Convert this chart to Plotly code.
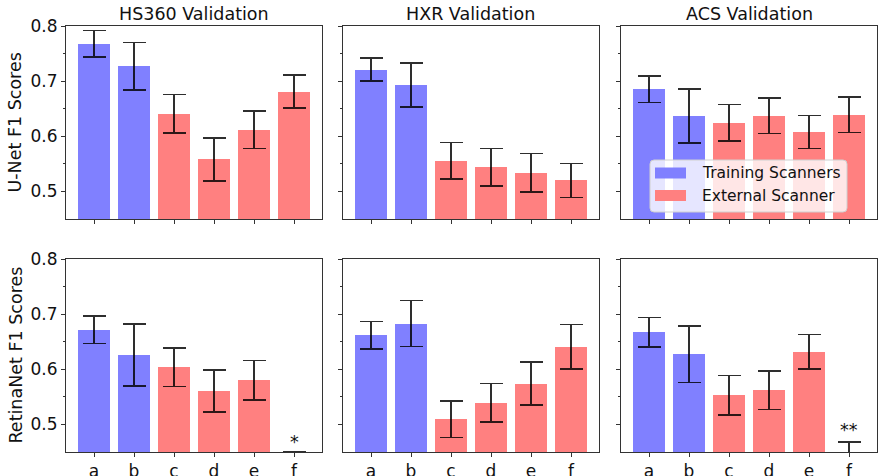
import plotly.graph_objects as go

W, H = 878, 476

categories = ["a", "b", "c", "d", "e", "f"]
validation_sets = ["HS360 Validation", "HXR Validation", "ACS Validation"]
model_labels = ["U-Net F1 Scores", "RetinaNet F1 Scores"]
legend_labels = ["Training Scanners", "External Scanner"]
scanner_type = ["train", "train", "ext", "ext", "ext", "ext"]

# U-Net F1 means / errors
unet_hs360 = [0.768, 0.727, 0.641, 0.558, 0.612, 0.681]
unet_hs360_err = [0.024, 0.043, 0.035, 0.039, 0.034, 0.030]
unet_hxr = [0.721, 0.693, 0.556, 0.544, 0.534, 0.520]
unet_hxr_err = [0.021, 0.040, 0.033, 0.034, 0.035, 0.031]
unet_acs = [0.685, 0.637, 0.625, 0.637, 0.608, 0.639]
unet_acs_err = [0.024, 0.049, 0.033, 0.032, 0.030, 0.032]

# RetinaNet F1 means / errors
ret_hs360 = [0.672, 0.626, 0.604, 0.561, 0.580, 0.420]
ret_hs360_err = [0.025, 0.056, 0.035, 0.038, 0.036, 0.030]
ret_hxr = [0.662, 0.683, 0.509, 0.539, 0.574, 0.641]
ret_hxr_err = [0.025, 0.042, 0.033, 0.035, 0.039, 0.040]
ret_acs = [0.667, 0.627, 0.553, 0.562, 0.632, 0.430]
ret_acs_err = [0.027, 0.051, 0.036, 0.035, 0.031, 0.038]

# significance markers on bar f
marks = {(1, 0): ("*", 0.468), (1, 2): ("**", 0.490)}

y_ticks = [0.5, 0.6, 0.7, 0.8]
y_minor = [0.55, 0.65, 0.75]

values = [[unet_hs360, unet_hxr, unet_acs], [ret_hs360, ret_hxr, ret_acs]]
errors = [[unet_hs360_err, unet_hxr_err, unet_acs_err],
          [ret_hs360_err, ret_hxr_err, ret_acs_err]]

color_map = {"train": "#8080ff", "ext": "#ff8080"}
bar_colors = [color_map[s] for s in scanner_type]

FONT = "DejaVu Sans"
AX = "#333333"

col_px = [(66, 322), (343, 599), (621, 877)]
row_px = [(26, 219), (259, 452)]


def px(x):
    return x / W


def py(y):
    return 1 - y / H


fig = go.Figure()
layout = {}
annotations = []
shapes = []
xs = list(range(len(categories)))

for r in range(2):
    for c in range(3):
        idx = r * 3 + c + 1
        xa = "x" if idx == 1 else f"x{idx}"
        ya = "y" if idx == 1 else f"y{idx}"
        fig.add_trace(go.Bar(
            x=xs, y=values[r][c], width=0.8,
            marker=dict(color=bar_colors, line=dict(width=0)),
            error_y=dict(type="data", array=errors[r][c], color="rgba(0,0,0,0.82)",
                         thickness=1.6, width=11.5),
            xaxis=xa, yaxis=ya, showlegend=False, hoverinfo="skip",
        ))
        x0, x1 = col_px[c]
        y0, y1 = row_px[r]
        layout["xaxis" if idx == 1 else f"xaxis{idx}"] = dict(
            domain=[px(x0), px(x1)], anchor=ya, range=[-0.7, 5.7],
            tickvals=xs, ticktext=categories, showticklabels=(r == 1),
            ticks="outside", ticklen=4, tickwidth=1, tickcolor=AX,
            showline=True, mirror=True, linecolor=AX, linewidth=1,
            showgrid=False, zeroline=False, automargin=False,
            tickfont=dict(family=FONT, size=17, color="#111"),
        )
        layout["yaxis" if idx == 1 else f"yaxis{idx}"] = dict(
            domain=[py(y1), py(y0)], anchor=xa, range=[0.45, 0.8],
            tickvals=y_ticks, ticktext=[f"{v:.1f}" for v in y_ticks],
            showticklabels=(c == 0),
            ticks="outside", ticklen=4, tickwidth=1, tickcolor=AX,
            minor=dict(tickvals=y_minor, ticks="outside", ticklen=2, tickcolor=AX),
            showline=True, mirror=True, linecolor=AX, linewidth=1,
            showgrid=False, zeroline=False, automargin=False,
            tickfont=dict(family=FONT, size=17, color="#111"),
        )
        if r == 0:
            annotations.append(dict(
                text=validation_sets[c], x=px((x0 + x1) / 2), y=py(14),
                xref="paper", yref="paper", showarrow=False,
                xanchor="center", yanchor="middle",
                font=dict(family=FONT, size=17.5, color="#111")))
        if (r, c) in marks:
            t, yv = marks[(r, c)]
            annotations.append(dict(
                text=t, x=5, y=yv, xref=xa, yref=ya, showarrow=False,
                xanchor="center", yanchor="middle",
                font=dict(family=FONT, size=17.5, color="#111")))
    y0, y1 = row_px[r]
    annotations.append(dict(
        text=model_labels[r], x=px(15), y=py((y0 + y1) / 2),
        xref="paper", yref="paper", showarrow=False, textangle=-90,
        xanchor="center", yanchor="middle",
        font=dict(family=FONT, size=17.5, color="#111")))

# legend box (drawn like matplotlib's legend)
lx0, lx1, ly0, ly1 = 650, 847, 160, 212
rad = 4
path = (f"M {px(lx0 + rad)} {py(ly0)} L {px(lx1 - rad)} {py(ly0)} "
        f"Q {px(lx1)} {py(ly0)} {px(lx1)} {py(ly0 + rad)} "
        f"L {px(lx1)} {py(ly1 - rad)} Q {px(lx1)} {py(ly1)} {px(lx1 - rad)} {py(ly1)} "
        f"L {px(lx0 + rad)} {py(ly1)} Q {px(lx0)} {py(ly1)} {px(lx0)} {py(ly1 - rad)} "
        f"L {px(lx0)} {py(ly0 + rad)} Q {px(lx0)} {py(ly0)} {px(lx0 + rad)} {py(ly0)} Z")
shapes.append(dict(type="path", path=path, xref="paper", yref="paper",
                   fillcolor="rgba(255,255,255,0.8)", line=dict(color="#d0d0d0", width=1),
                   layer="above"))
for i, (lab, key) in enumerate(zip(legend_labels, ["train", "ext"])):
    cy = 173 + i * 22.5
    shapes.append(dict(type="rect", xref="paper", yref="paper",
                       x0=px(655), x1=px(686), y0=py(cy - 5.5), y1=py(cy + 5.5),
                       fillcolor=color_map[key], line=dict(width=0), layer="above"))
    annotations.append(dict(
        text=lab, x=px(700), y=py(cy), xref="paper", yref="paper", showarrow=False,
        xanchor="left", yanchor="middle",
        font=dict(family=FONT, size=15.5, color="#111")))

fig.update_layout(
    template="none",
    width=W, height=H, margin=dict(l=0, r=0, t=0, b=0, pad=0),
    paper_bgcolor="white", plot_bgcolor="white",
    font=dict(family=FONT, color="#111"),
    annotations=annotations, shapes=shapes, showlegend=False, bargap=0,
    **layout,
)

fig.write_html(
    "out.html",
    config={"displayModeBar": False},
    post_script="document.body.style.margin='0';document.body.style.overflow='hidden';",
)
